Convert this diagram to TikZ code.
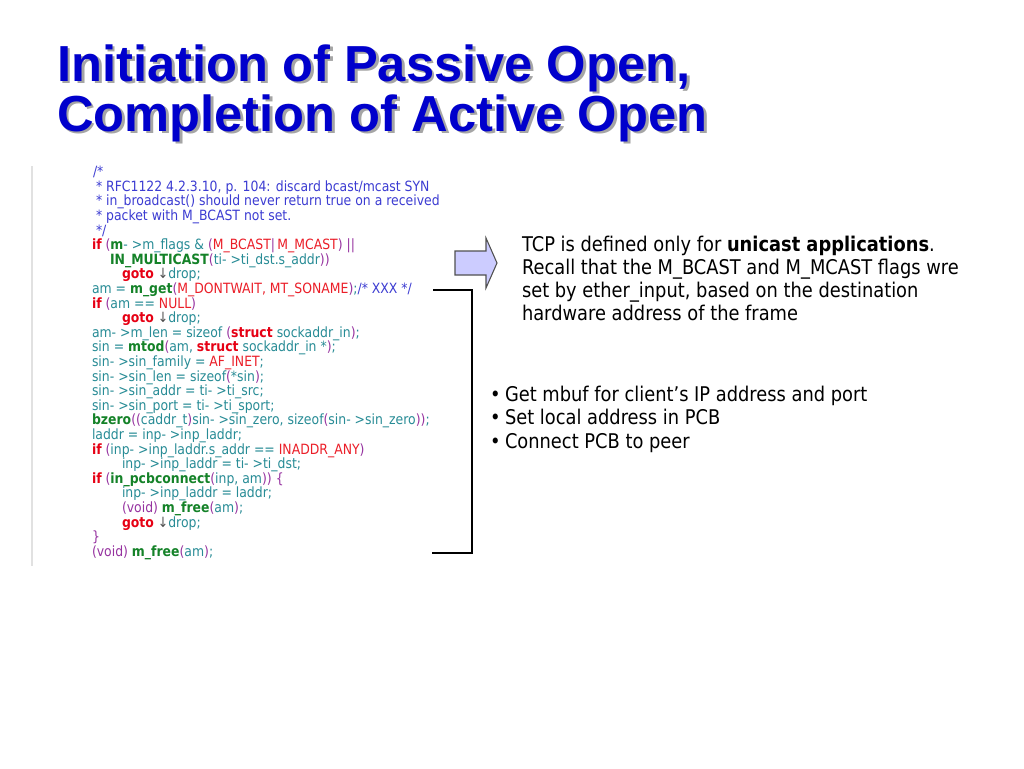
\documentclass[tikz,border=0pt]{standalone}
\usepackage{fontspec}
\setmainfont{DejaVu Sans}[FakeStretch=0.88]
\newfontfamily\titlefont{Liberation Sans}
\definecolor{titleblue}{RGB}{0,0,204}
\definecolor{shadowgray}{RGB}{165,165,165}
\definecolor{cmc}{RGB}{60,60,210}
\definecolor{kwc}{RGB}{230,0,20}
\definecolor{csc}{RGB}{235,30,40}
\definecolor{idc}{RGB}{40,140,150}
\definecolor{fnc}{RGB}{20,130,40}
\definecolor{puc}{RGB}{150,50,160}
\definecolor{arrc}{RGB}{80,80,80}
\definecolor{arrowfill}{RGB}{204,204,255}
\definecolor{leftline}{RGB}{225,225,225}
\newcommand\Kw[1]{\textcolor{kwc}{\bfseries #1}}
\newcommand\Fn[1]{\textcolor{fnc}{\bfseries #1}}
\newcommand\Cs[1]{\textcolor{csc}{#1}}
\newcommand\Pu[1]{\textcolor{puc}{#1}}
\newcommand\Cm[1]{\textcolor{cmc}{#1}}
\newcommand\Dn{\textcolor{arrc}{↓}}
\newcommand\Shadowed[1]{\makebox[0pt][l]{\hspace{2.2pt}\raisebox{-2.2pt}{\textcolor{shadowgray}{#1}}}\textcolor{titleblue}{#1}}
\begin{document}
\begin{tikzpicture}[x=0.75pt,y=-0.75pt,
  code/.style={anchor=base west, inner sep=0pt, outer sep=0pt, text=idc,
    font=\fontsize{10.6}{12}\selectfont},
  rtext/.style={anchor=base west, inner sep=0pt, outer sep=0pt, text=black,
    font=\fontsize{15.2}{18}\selectfont},
  ttl/.style={anchor=base west, inner sep=0pt, outer sep=0pt,
    font=\titlefont\bfseries\fontsize{38}{38}\selectfont},
  bracket/.style={draw=black, line width=1.1pt},
  blockarrow/.style={draw=arrc, fill=arrowfill, line width=0.8pt, line join=miter}]
\useasboundingbox (0,0) rectangle (1024,768);
\fill[white] (0,0) rectangle (1024,768);
% title
\node[ttl] (t1) at (57,81) {\Shadowed{Initiation of Passive Open,}};
\node[ttl] (t2) at (57,131) {\Shadowed{Completion of Active Open}};
% left gray rule
\draw[leftline, line width=1.5pt] (32,166) -- (32,566);
% code
\node[code] (l1) at (93,176.7) {\Cm{/*}};
\node[code] (l2) at (96,191.3) {\Cm{* RFC1122 4.2.3.10, p. 104: discard bcast/mcast SYN}};
\node[code] (l3) at (96,205.9) {\Cm{* in\_broadcast() should never return true on a received}};
\node[code] (l4) at (96,220.5) {\Cm{* packet with M\_BCAST not set.}};
\node[code] (l5) at (96,235.1) {\Cm{*/}};
\node[code] (l6) at (92,249.7) {\Kw{if} \Pu{(}\Fn{m}- >m\_flags \& \Pu{(}\Cs{M\_BCAST}\Pu{|}\,\Cs{M\_MCAST}\Pu{)} \Pu{||}};
\node[code] (l7) at (110,264.3) {\Fn{IN\_MULTICAST}\Pu{(}ti- >ti\_dst.s\_addr\Pu{))}};
\node[code] (l8) at (122,278.9) {\Kw{goto} \Dn drop;};
\node[code] (l9) at (92,293.5) {am = \Fn{m\_get}\Pu{(}\Cs{M\_DONTWAIT, MT\_SONAME}\Pu{)};\Cm{/* XXX */}};
\node[code] (l10) at (92,308.1) {\Kw{if} \Pu{(}am == \Cs{NULL}\Pu{)}};
\node[code] (l11) at (122,322.7) {\Kw{goto} \Dn drop;};
\node[code] (l12) at (92,337.3) {am- >m\_len = sizeof \Pu{(}\Kw{struct} sockaddr\_in\Pu{)};};
\node[code] (l13) at (92,351.9) {sin = \Fn{mtod}\Pu{(}am, \Kw{struct} sockaddr\_in *\Pu{)};};
\node[code] (l14) at (92,366.5) {sin- >sin\_family = \Cs{AF\_INET};};
\node[code] (l15) at (92,381.1) {sin- >sin\_len = sizeof\Pu{(}*sin\Pu{)};};
\node[code] (l16) at (92,395.7) {sin- >sin\_addr = ti- >ti\_src;};
\node[code] (l17) at (92,410.3) {sin- >sin\_port = ti- >ti\_sport;};
\node[code] (l18) at (92,424.9) {\Fn{bzero}\Pu{((}caddr\_t\Pu{)}sin- >sin\_zero, sizeof\Pu{(}sin- >sin\_zero\Pu{))};};
\node[code] (l19) at (92,439.5) {laddr = inp- >inp\_laddr;};
\node[code] (l20) at (92,454.1) {\Kw{if} \Pu{(}inp- >inp\_laddr.s\_addr == \Cs{INADDR\_ANY}\Pu{)}};
\node[code] (l21) at (122,468.7) {inp- >inp\_laddr = ti- >ti\_dst;};
\node[code] (l22) at (92,483.3) {\Kw{if} \Pu{(}\Fn{in\_pcbconnect}\Pu{(}inp, am\Pu{))} \Pu{\{}};
\node[code] (l23) at (122,497.9) {inp- >inp\_laddr = laddr;};
\node[code] (l24) at (122,512.5) {\Pu{(void)} \Fn{m\_free}\Pu{(}am\Pu{)};};
\node[code] (l25) at (122,527.1) {\Kw{goto} \Dn drop;};
\node[code] (l26) at (92,541.7) {\Pu{\}}};
\node[code] (l27) at (92,556.3) {\Pu{(void)} \Fn{m\_free}\Pu{(}am\Pu{)};};
% bracket
\coordinate (bA) at (433,290);
\coordinate (bB) at (472,290);
\coordinate (bC) at (472,553);
\coordinate (bD) at (432,553);
\draw[bracket] (bA) -- (bB) -- (bC) -- (bD);
% block arrow
\draw[blockarrow] (455,251) -- (486,251) -- (486,238) -- (497,263) -- (486,288) -- (486,275) -- (455,275) -- cycle;
% right text
\node[rtext] (r1) at (522,251) {TCP is defined only for \textbf{unicast applications}.};
\node[rtext] (r2) at (522,274.3) {Recall that the M\_BCAST and M\_MCAST flags wre};
\node[rtext] (r3) at (522,297.6) {set by ether\_input, based on the destination};
\node[rtext] (r4) at (522,320.9) {hardware address of the frame};
\node[rtext] (p1) at (490,401.7) {•};
\node[rtext] (q1) at (505,401.7) {Get mbuf for client’s IP address and port};
\node[rtext] (p2) at (490,424.9) {•};
\node[rtext] (q2) at (505,424.9) {Set local address in PCB};
\node[rtext] (p3) at (490,448.1) {•};
\node[rtext] (q3) at (505,448.1) {Connect PCB to peer};
\end{tikzpicture}
\end{document}
